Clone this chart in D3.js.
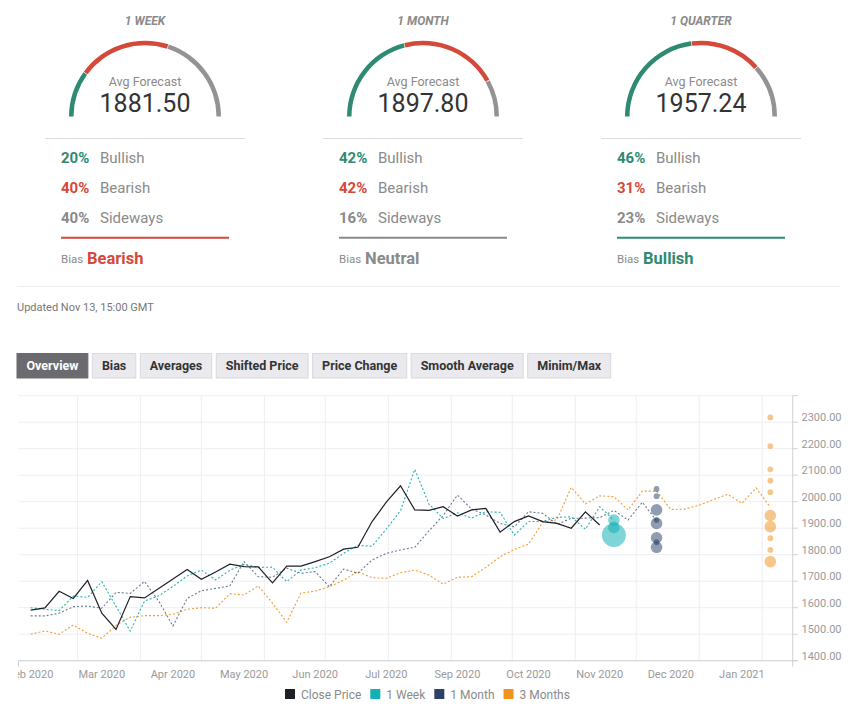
<!DOCTYPE html>
<html lang="en">
<head>
<meta charset="UTF-8">
<title>Forecast Poll</title>
<script src="https://d3js.org/d3.v7.min.js"></script>
<style>
  body { margin: 0; background: #fff; }
  svg { display: block; font-family: Roboto, "Open Sans", sans-serif; }
</style>
</head>
<body>
<script>
const width = 863;
const height = 713;

// sentiment poll
const horizons    = ["1 WEEK", "1 MONTH", "1 QUARTER"];
const avgForecast = ["1881.50", "1897.80", "1957.24"];
const bullish     = [20, 42, 46];
const bearish     = [40, 42, 31];
const sideways    = [40, 16, 23];
const bias        = ["Bearish", "Neutral", "Bullish"];

const tabs = ["Overview", "Bias", "Averages", "Shifted Price", "Price Change", "Smooth Average", "Minim/Max"];

// weekly series, first point on this date
const firstWeek = "2020-02-07";
const closePrice = [1591, 1599, 1662, 1635, 1703, 1579, 1518, 1642, 1637, 1672,
                    1708, 1744, 1707, 1735, 1764, 1755, 1754, 1694, 1757, 1757,
                    1774, 1792, 1821, 1828, 1925, 1998, 2060, 1969, 1967, 1981,
                    1946, 1969, 1975, 1885, 1925, 1946, 1925, 1918, 1900, 1962,
                    1912];
const week1 = [1600, 1594, 1589, 1644, 1639, 1698, 1605, 1512, 1625, 1645,
               1680, 1720, 1742, 1705, 1741, 1764, 1752, 1753, 1698, 1742,
               1751, 1768, 1805, 1835, 1832, 1897, 1966, 2122, 1991, 1937,
               1958, 1938, 1962, 1960, 1874, 1925, 1926, 1941, 1943, 1896,
               1981, 1931];
const month1 = [1569, 1569, 1579, 1604, 1606, 1598, 1658, 1654, 1699, 1625,
                1531, 1635, 1664, 1673, 1682, 1774, 1717, 1715, 1749, 1730,
                1736, 1679, 1746, 1730, 1780, 1805, 1818, 1828, 1890, 1948,
                2025, 1972, 1950, 1918, 1905, 1962, 1956, 1915, 1937, 1938,
                1940, 1967, 1931, 1998, 1928];
const months3 = [1500, 1512, 1500, 1535, 1503, 1485, 1533, 1564, 1570, 1570,
                 1575, 1594, 1600, 1598, 1653, 1648, 1682, 1617, 1545, 1655,
                 1663, 1679, 1704, 1736, 1713, 1711, 1732, 1742, 1723, 1689,
                 1715, 1717, 1752, 1792, 1820, 1840, 1922, 1932, 2054, 1992,
                 2022, 2019, 1969, 2040, 2040, 1971, 1972, 1987, 2008, 2028,
                 1994, 2052, 1979];

// individual forecasts (value, number of forecasters)
const week1Date    = "2020-11-20";
const week1Values  = [1931, 1903, 1874];
const week1Counts  = [4, 4, 17];
const month1Date   = "2020-12-11";
const month1Values = [2048, 2021, 1969, 1931, 1918, 1864, 1847, 1828];
const month1Counts = [1, 1, 4, 1, 4, 4, 1, 4];
const months3Date   = "2021-02-05";
const months3Values = [2318, 2210, 2122, 2079, 2036, 1948, 1906, 1862, 1818, 1774];
const months3Counts = [1, 1, 1, 1, 1, 4, 4, 1, 1, 4];

const tickDates = ["2020-02-07", "2020-03-13", "2020-04-17", "2020-05-22", "2020-06-26", "2020-07-31",
                   "2020-09-04", "2020-10-09", "2020-11-13", "2020-12-18", "2021-01-22"];
const yTicks = [1400, 1500, 1600, 1700, 1800, 1900, 2000, 2100, 2200, 2300, 2400];

const seriesNames  = ["Close Price", "1 Week", "1 Month", "3 Months"];
const seriesColors = ["#1f1f27", "#14b0b5", "#2b4266", "#f0921e"];

const green = "#2f8a73", red = "#d4493a", grey = "#939393";
const biasColor = {Bullish: green, Bearish: red, Neutral: "#8a8a8a"};

const svg = d3.select("body").append("svg")
    .attr("width", width)
    .attr("height", height);

// ---- gauges
const colX = [145, 423, 701];
const arc = d3.arc().innerRadius(71.5).outerRadius(76);
const pie = d3.pie().sort(null).value(d => d)
    .startAngle(-Math.PI / 2).endAngle(Math.PI / 2).padAngle(0.006);
const rowNames = ["Bullish", "Bearish", "Sideways"];
const rowColors = [green, red, "#8a8a8a"];

horizons.forEach((h, k) => {
    const g = svg.append("g").attr("transform", "translate(" + colX[k] + ",0)");
    const rows = [bullish[k], bearish[k], sideways[k]];

    g.append("text")
        .attr("y", 25).attr("text-anchor", "middle")
        .style("font-size", "12px").style("font-style", "italic").style("font-weight", 700)
        .attr("fill", "#8a8a8a")
        .text(h);

    g.selectAll("path.seg")
        .data(pie(rows))
        .join("path")
        .attr("class", "seg")
        .attr("transform", "translate(0,116.7)")
        .attr("d", arc)
        .attr("fill", (d, i) => [green, red, grey][i]);

    g.append("text")
        .attr("y", 86).attr("text-anchor", "middle")
        .style("font-size", "12.5px").attr("fill", "#8a8a8a")
        .text("Avg Forecast");
    g.append("text")
        .attr("y", 112).attr("text-anchor", "middle")
        .style("font-size", "25px").attr("fill", "#333")
        .text(avgForecast[k]);

    g.append("line")
        .attr("x1", -100).attr("x2", 100).attr("y1", 138.5).attr("y2", 138.5)
        .attr("stroke", "#dcdcdc");

    rows.forEach((v, i) => {
        g.append("text")
            .attr("x", -84).attr("y", 163 + i * 30)
            .style("font-size", "15px").style("font-weight", 700)
            .attr("fill", rowColors[i])
            .text(v + "%");
        g.append("text")
            .attr("x", -45).attr("y", 163 + i * 30)
            .style("font-size", "15px").attr("fill", "#8a8a8a")
            .text(rowNames[i]);
    });

    g.append("line")
        .attr("x1", -84).attr("x2", 84).attr("y1", 237.7).attr("y2", 237.7)
        .attr("stroke", biasColor[bias[k]]).attr("stroke-width", 2);

    g.append("text")
        .attr("x", -84).attr("y", 263)
        .style("font-size", "11.5px").attr("fill", "#8a8a8a")
        .text("Bias");
    g.append("text")
        .attr("x", -58).attr("y", 263.5)
        .style("font-size", "16.5px").style("font-weight", 700)
        .attr("fill", biasColor[bias[k]])
        .text(bias[k]);
});

svg.append("line")
    .attr("x1", 17).attr("x2", 840).attr("y1", 286.5).attr("y2", 286.5)
    .attr("stroke", "#eeeeee");

svg.append("text")
    .attr("x", 17).attr("y", 311)
    .style("font-size", "11px").attr("fill", "#777")
    .text("Updated Nov 13, 15:00 GMT");

// ---- tabs
let tx = 17;
tabs.forEach((t, i) => {
    const g = svg.append("g");
    const r = g.append("rect")
        .attr("y", 353.5).attr("height", 24.5)
        .attr("fill", i == 0 ? "#6b6b6f" : "#e9e9ee")
        .attr("stroke", i == 0 ? "#6b6b6f" : "#d8d8de");
    const label = g.append("text")
        .attr("y", 370)
        .style("font-size", "12.5px").style("font-weight", 700)
        .attr("fill", i == 0 ? "#fff" : "#333")
        .text(t);
    const w = label.node().getComputedTextLength() + 19;
    r.attr("x", tx).attr("width", w);
    label.attr("x", tx + 9.5);
    tx += w + 4.5;
});

// ---- chart
const parse = d3.timeParse("%Y-%m-%d");
const start = parse(firstWeek);
const weekDate = i => d3.timeDay.offset(start, i * 7);

const x = d3.scaleTime()
    .domain([parse("2020-02-01"), parse("2021-02-16")])
    .range([18.5, 792.7]);
const y = d3.scaleLinear()
    .domain([1400, 2400])
    .range([660.7, 395.7]);
const r = d3.scaleSqrt().domain([0, 1]).range([0, 2.9]);

const grid = svg.append("g").attr("stroke", "#eeeef3");
grid.selectAll("line.h")
    .data(yTicks)
    .join("line")
    .attr("class", "h")
    .attr("x1", x.range()[0]).attr("x2", x.range()[1])
    .attr("y1", d => y(d)).attr("y2", d => y(d));
grid.selectAll("line.v")
    .data(d3.timeMonth.range(parse("2020-03-01"), parse("2021-02-02")))
    .join("line")
    .attr("class", "v")
    .attr("x1", d => x(d)).attr("x2", d => x(d))
    .attr("y1", y(2400)).attr("y2", y(1400));

// axes
const axes = svg.append("g").attr("stroke", "#d0d0d4");
axes.append("line")
    .attr("x1", x.range()[0]).attr("x2", x.range()[1] + 5)
    .attr("y1", y(1400)).attr("y2", y(1400));
axes.append("line")
    .attr("x1", x.range()[0]).attr("x2", x.range()[0])
    .attr("y1", y(1400)).attr("y2", y(1400) + 6);
axes.append("line")
    .attr("x1", x.range()[1]).attr("x2", x.range()[1])
    .attr("y1", y(2400)).attr("y2", y(1400) + 6);
axes.selectAll("line.t")
    .data(yTicks)
    .join("line")
    .attr("class", "t")
    .attr("x1", x.range()[1]).attr("x2", x.range()[1] + 5)
    .attr("y1", d => y(d)).attr("y2", d => y(d));

svg.append("g")
    .selectAll("text")
    .data(yTicks.slice(0, -1))
    .join("text")
    .attr("x", 801.5)
    .attr("y", d => y(d) - 1)
    .style("font-size", "11px").attr("fill", "#9a9a9a")
    .text(d => d3.format(".2f")(d));

svg.append("clipPath").attr("id", "xclip")
    .append("rect").attr("x", 18).attr("y", 660).attr("width", 845).attr("height", 30);

svg.append("g")
    .attr("clip-path", "url(#xclip)")
    .selectAll("text")
    .data(tickDates.map(parse))
    .join("text")
    .attr("x", d => x(d))
    .attr("y", 677.5)
    .attr("text-anchor", "middle")
    .style("font-size", "11px").attr("fill", "#9a9a9a")
    .text(d3.timeFormat("%b %Y"));

// lines
const line = d3.line()
    .x((d, i) => x(weekDate(i)))
    .y(d => y(d));

const series = [
    {data: months3, color: seriesColors[3], dash: "2,2", opacity: 0.9},
    {data: month1, color: seriesColors[2], dash: "2,2", opacity: 0.7},
    {data: week1, color: seriesColors[1], dash: "2,2", opacity: 0.95},
    {data: closePrice, color: seriesColors[0], dash: null, opacity: 1}
];

svg.append("g")
    .selectAll("path")
    .data(series)
    .join("path")
    .attr("d", d => line(d.data))
    .attr("fill", "none")
    .attr("stroke", d => d.color)
    .attr("stroke-width", d => d.dash ? 1.1 : 1.2)
    .attr("stroke-opacity", d => d.opacity)
    .attr("stroke-dasharray", d => d.dash);

// forecast bubbles
const bubbles = [
    {date: week1Date, values: week1Values, counts: week1Counts, color: seriesColors[1], op: 0.55},
    {date: month1Date, values: month1Values, counts: month1Counts, color: seriesColors[2], op: 0.52},
    {date: months3Date, values: months3Values, counts: months3Counts, color: seriesColors[3], op: 0.52}
];

bubbles.forEach(b => {
    svg.append("g")
        .selectAll("circle")
        .data(b.values)
        .join("circle")
        .attr("cx", x(parse(b.date)))
        .attr("cy", d => y(d))
        .attr("r", (d, i) => r(b.counts[i]))
        .attr("fill", b.color)
        .attr("fill-opacity", b.op);
});

// legend
let lx = 285;
seriesNames.forEach((n, i) => {
    svg.append("rect")
        .attr("x", lx).attr("y", 689).attr("width", 10).attr("height", 10)
        .attr("fill", seriesColors[i]);
    const t = svg.append("text")
        .attr("x", lx + 16).attr("y", 698.5)
        .style("font-size", "12px").attr("fill", "#8a8a8a")
        .text(n);
    lx += 16 + t.node().getComputedTextLength() + 9;
});
</script>
</body>
</html>
